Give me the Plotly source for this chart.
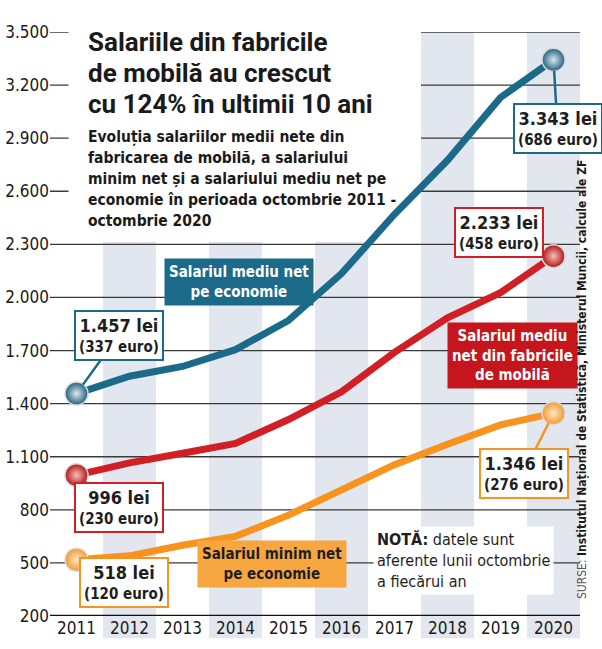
import plotly.graph_objects as go

# Date (octombrie a fiecarui an), lei
years = [2011, 2012, 2013, 2014, 2015, 2016, 2017, 2018, 2019, 2020]
salariu_mediu_economie = [1457, 1555, 1610, 1705, 1870, 2135, 2470, 2775, 3130, 3343]
salariu_mobila = [996, 1065, 1120, 1175, 1310, 1467, 1690, 1885, 2027, 2233]
salariu_minim = [518, 540, 600, 650, 770, 910, 1055, 1170, 1280, 1346]

# echivalent in euro pentru primul si ultimul an
euro_economie = [337, 686]
euro_mobila = [230, 458]
euro_minim = [120, 276]

y_ticks = [200, 500, 800, 1100, 1400, 1700, 2000, 2300, 2600, 2900, 3200, 3500]
shaded_years = [2012, 2014, 2016, 2018, 2020]

title_lines = ["Salariile din fabricile", "de mobilă au crescut", "cu 124% în ultimii 10 ani"]
subtitle_lines = [
    "Evoluția salariilor medii nete din",
    "fabricarea de mobilă, a salariului",
    "minim net și a salariului mediu net pe",
    "economie în perioada octombrie 2011 -",
    "octombrie 2020",
]

NARROW = "Liberation Sans Narrow, DejaVu Sans Condensed, Arial Narrow, sans-serif"
BOLD = "Roboto, Liberation Sans, Arial, sans-serif"
BAND = "#e2e7ef"
GRID = "#3a3a3a"

W, H = 602, 649
ML, MR, MT, MB = 50, 22, 32, 33


def px(x, y):
    # pixel position -> paper coords
    return (x - ML) / (W - ML - MR), (H - MB - y) / (H - MT - MB)


def lei(v):
    return f"{v:,}".replace(",", ".")


fig = go.Figure()

shapes = []
for yr in shaded_years:
    shapes.append(dict(type="rect", xref="x", yref="paper", x0=yr - 0.5, x1=yr + 0.5,
                       y0=-0.038, y1=1, fillcolor=BAND, line_width=0, layer="below"))
for v in y_ticks[1:]:
    shapes.append(dict(type="line", xref="paper", yref="y", x0=0, x1=1, y0=v, y1=v,
                       line=dict(color=GRID, width=1.3), layer="below"))
# white area behind the title
shapes.append(dict(type="rect", xref="x", yref="y", x0=2010.85, x1=2017.5, y0=2315, y1=3700,
                   fillcolor="white", line_width=0, layer="below"))
shapes.append(dict(type="line", xref="paper", yref="y", x0=0, x1=1, y0=200, y1=200,
                   line=dict(color="#111", width=2.5), layer="below"))

series = [
    # values, euro, line colour, dark, light, (ax, ay) start, (ax, ay) end
    (salariu_mediu_economie, euro_economie, "#1b6a8a", "#22607e", "#dce8ef", (42, -58), (4, 69)),
    (salariu_mobila, euro_mobila, "#d21f26", "#b0141b", "#f6c0b4", (42, 32), (-55, -24)),
    (salariu_minim, euro_minim, "#f7931e", "#f29a2e", "#fde6c4", (47, 23), (-30, 60)),
]

annotations = []
for vals, euro, col, dark, light, a0, a1 in series:
    fig.add_trace(go.Scatter(x=years, y=vals, mode="lines",
                             line=dict(color=col, width=7), hoverinfo="skip", showlegend=False))
    fig.add_trace(go.Scatter(x=[years[0], years[-1]], y=[vals[0], vals[-1]], mode="markers",
                             marker=dict(size=23, color=dark,
                                         gradient=dict(type="radial", color=light),
                                         line=dict(color="#d9d9d9", width=1.5)),
                             hoverinfo="skip", showlegend=False))
    for (xv, yv, e, off) in [(years[0], vals[0], euro[0], a0), (years[-1], vals[-1], euro[-1], a1)]:
        annotations.append(dict(
            x=xv, y=yv, xref="x", yref="y", ax=off[0], ay=off[1],
            text=f"<b><span style='font-size:18px'>{lei(yv)} lei</span><br>({e} euro)</b>",
            showarrow=True, arrowhead=0, arrowwidth=2.5, arrowcolor=col, standoff=11,
            bgcolor="white", bordercolor=col, borderwidth=2, borderpad=3,
            font=dict(family=NARROW, size=15, color="#1e1e1e"), align="center",
        ))

# label boxes
label_boxes = [
    ("Salariul mediu net<br>pe economie", 2014.06, 2089, "#1b6a8a", "white"),
    ("Salariul mediu<br>net din fabricile<br>de mobilă", 2019.23, 1671, "#c4161c", "white"),
    ("Salariul minim net<br>pe economie", 2014.68, 496, "#f8a640", "#1e1e1e"),
]
for txt, xv, yv, bg, fc in label_boxes:
    annotations.append(dict(x=xv, y=yv, xref="x", yref="y", text=f"<b>{txt}</b>", showarrow=False,
                            bgcolor=bg, borderpad=4, font=dict(family=NARROW, size=15, color=fc),
                            align="center"))

annotations.append(dict(x=2016.6, y=512, xref="x", yref="y", xanchor="left",
                        text="<b>NOTĂ:</b> datele sunt<br>aferente lunii octombrie<br>a fiecărui an",
                        showarrow=False, bgcolor="white", borderpad=3, align="left",
                        font=dict(family=NARROW, size=16, color="#1e1e1e")))

for i, line in enumerate(title_lines):
    xp, yp = px(86, 42 + 31 * i)
    annotations.append(dict(x=xp, y=yp, xref="paper", yref="paper", xanchor="left", yanchor="middle",
                            text=f"<b>{line}</b>", showarrow=False,
                            font=dict(family=BOLD, size=26, color="#1a1a1a")))
for i, line in enumerate(subtitle_lines):
    xp, yp = px(86, 137 + 21 * i)
    annotations.append(dict(x=xp, y=yp, xref="paper", yref="paper", xanchor="left", yanchor="middle",
                            text=f"<b>{line}</b>", showarrow=False,
                            font=dict(family=NARROW, size=15.5, color="#1a1a1a")))

xp, yp = px(591, 380)
annotations.append(dict(x=xp, y=yp, xref="paper", yref="paper", textangle=-90, showarrow=False,
                        text="<span style='color:#555'>SURSE: </span><b>Institutul Național de Statistică, "
                             "Ministerul Muncii, calcule ale ZF</b>",
                        font=dict(family=NARROW, size=12, color="#1a1a1a")))

fig.update_layout(
    width=W, height=H,
    margin=dict(l=ML, r=MR, t=MT, b=MB, autoexpand=False),
    paper_bgcolor="white", plot_bgcolor="white",
    shapes=shapes, annotations=annotations,
    xaxis=dict(range=[2010.5, 2020.5], tickvals=years, ticktext=[str(y) for y in years],
               showgrid=False, zeroline=False, showline=False, ticks="", automargin=False,
               tickfont=dict(family=NARROW, size=17, color="#1a1a1a")),
    yaxis=dict(range=[200, 3500], tickvals=y_ticks, ticktext=[lei(v) for v in y_ticks],
               showgrid=False, zeroline=False, showline=False, ticks="", automargin=False,
               tickfont=dict(family=NARROW, size=17, color="#1a1a1a")),
    showlegend=False,
)

# the page body has a default 8px margin; drop it so the chart fills the window
fig.write_html("out.html", config={"displayModeBar": False},
               post_script="document.body.style.margin='0';")
